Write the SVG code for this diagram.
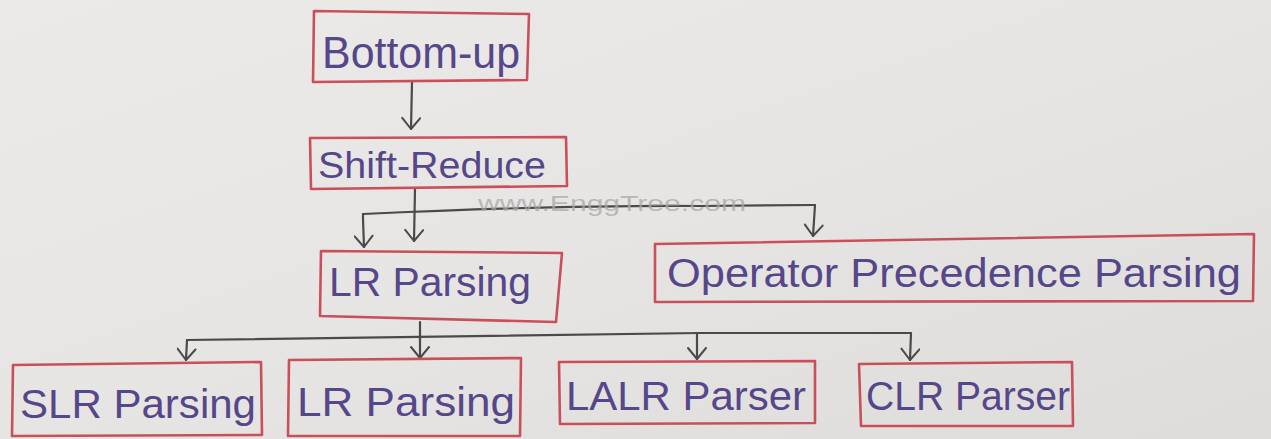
<svg xmlns="http://www.w3.org/2000/svg" width="1271" height="439" viewBox="0 0 1271 439">
  <defs>
    <linearGradient id="paper" x1="0" y1="0" x2="1" y2="1">
      <stop offset="0" stop-color="#eceae8"/>
      <stop offset="0.5" stop-color="#e7e5e3"/>
      <stop offset="1" stop-color="#dedcda"/>
    </linearGradient>
    <!-- open "V" arrowhead, drawn along +x so orient="auto" follows the line -->
    <marker id="vee" viewBox="0 0 14 20" refX="13" refY="10" markerWidth="14" markerHeight="20" markerUnits="userSpaceOnUse" orient="auto">
      <path d="M2 1 L13 10 L2 19" fill="none" stroke="#4a4a4a" stroke-width="2" stroke-linecap="round" stroke-linejoin="round"/>
    </marker>
    <style>
      .box { fill: none; stroke: #c9505a; stroke-width: 2.6; stroke-linejoin: round; }
      .lbl { font-family: "Liberation Sans", "DejaVu Sans", sans-serif; fill: #55478a; }
      .wire { fill: none; stroke: #4a4a4a; stroke-width: 2.2; stroke-linecap: round; }
      .arrow { marker-end: url(#vee); }
      .mark { font-family: "Liberation Sans", Arial, sans-serif; fill: #a9a8a8; opacity: 0.75; }
    </style>
  </defs>

  <rect width="1271" height="439" fill="url(#paper)"/>

  <!-- connectors -->
  <g id="connectors">
    <line class="wire arrow" x1="412" y1="82" x2="411" y2="129"/>
    <line class="wire arrow" x1="415" y1="189" x2="414" y2="241"/>
    <path class="wire" d="M363 219 L363 214 Q560 205 700 206 L815 205"/>
    <line class="wire arrow" x1="363" y1="219" x2="364" y2="247"/>
    <line class="wire arrow" x1="815" y1="205" x2="813" y2="236"/>
    <line class="wire" x1="420" y1="322" x2="420" y2="340"/>
    <path class="wire" d="M187 340 Q400 336 700 333 L911 333"/>
    <line class="wire arrow" x1="187" y1="340" x2="186" y2="360"/>
    <line class="wire arrow" x1="420" y1="338" x2="420" y2="358"/>
    <line class="wire arrow" x1="697" y1="334" x2="697" y2="359"/>
    <line class="wire arrow" x1="911" y1="333" x2="910" y2="360"/>
  </g>

  <text class="mark" x="478" y="211" font-size="22" textLength="268" lengthAdjust="spacingAndGlyphs">www.EnggTree.com</text>

  <g id="bottom-up">
    <polygon class="box" points="314,11 529,14 527,80 313,82"/>
    <text class="lbl" x="322" y="68" font-size="44" textLength="198" lengthAdjust="spacingAndGlyphs">Bottom-up</text>
  </g>

  <g id="shift-reduce">
    <polygon class="box" points="310,138 566,137 567,186 311,189"/>
    <text class="lbl" x="318" y="178" font-size="36" textLength="228" lengthAdjust="spacingAndGlyphs">Shift-Reduce</text>
  </g>

  <g id="lr-parsing-top">
    <polygon class="box" points="321,251 562,253 556,322 320,316"/>
    <text class="lbl" x="329" y="296" font-size="40" textLength="202" lengthAdjust="spacingAndGlyphs">LR Parsing</text>
  </g>

  <g id="operator-precedence">
    <polygon class="box" points="655,244 1254,234 1253,301 655,302"/>
    <text class="lbl" x="667" y="287" font-size="40" textLength="574" lengthAdjust="spacingAndGlyphs">Operator Precedence Parsing</text>
  </g>

  <g id="slr-parsing">
    <polygon class="box" points="13,365 261,362 262,435 12,436"/>
    <text class="lbl" x="20" y="418" font-size="40" textLength="236" lengthAdjust="spacingAndGlyphs">SLR Parsing</text>
  </g>

  <g id="lr-parsing">
    <polygon class="box" points="289,360 521,358 520,436 288,436"/>
    <text class="lbl" x="297" y="416" font-size="40" textLength="218" lengthAdjust="spacingAndGlyphs">LR Parsing</text>
  </g>

  <g id="lalr-parser">
    <polygon class="box" points="559,362 815,361 815,423 560,424"/>
    <text class="lbl" x="566" y="410" font-size="40" textLength="240" lengthAdjust="spacingAndGlyphs">LALR Parser</text>
  </g>

  <g id="clr-parser">
    <polygon class="box" points="859,364 1072,362 1073,426 861,426"/>
    <text class="lbl" x="866" y="410" font-size="40" textLength="204" lengthAdjust="spacingAndGlyphs">CLR Parser</text>
  </g>
</svg>
